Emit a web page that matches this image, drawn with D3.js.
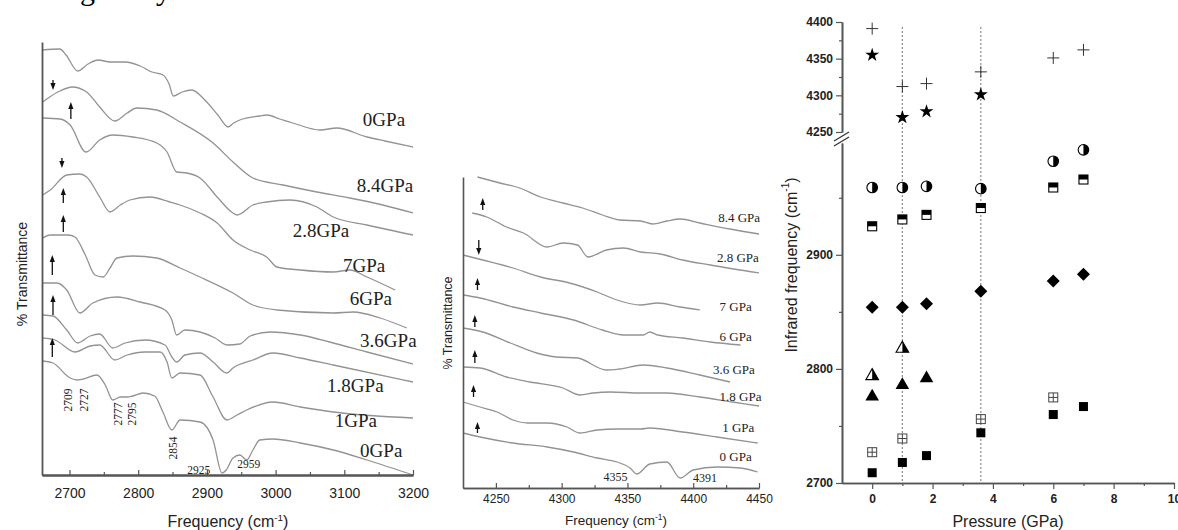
<!DOCTYPE html>
<html>
<head>
<meta charset="utf-8">
<script src="https://cdn.jsdelivr.net/npm/d3@7"></script>
<style>
  body { margin: 0; background: #fff; }
  svg { display: block; }
  .sans { font-family: "Liberation Sans", Arial, sans-serif; }
  .serif { font-family: "Liberation Serif", "Times New Roman", serif; }
</style>
</head>
<body>
<svg id="chart" width="1178" height="530"></svg>
<script>
// ---- left panel: 2660-3200 cm-1 spectra, [frequency, transmittance (stacked, arb. units)]
const LEFT_LABELS = ["0GPa", "8.4GPa", "2.8GPa", "7GPa", "6GPa", "3.6GPa", "1.8GPa", "1GPa", "0GPa"];
const LEFT_LABEL_AT = [[3127, 349], [3118, 283], [3025, 238], [3098, 203], [3108, 170], [3123, 128], [3075, 83], [3086, 48], [3123, 18]];
const LEFT_SPECTRA = [
  [[2660,425],[2686,426],[2695,420],[2712,404],[2727,411],[2742,415],[2759,413],[2781,413],[2803,409],[2820,403],[2836,400],[2845,391],[2851,379],[2864,383],[2878,385],[2897,375],[2916,360],[2931,348],[2939,352],[2948,355],[2977,359],[2987,360],[3006,356],[3025,352],[3065,345],[3089,347],[3133,338],[3159,334],[3200,328]],
  [[2661,373],[2667,376],[2686,384],[2704,388],[2725,383],[2744,368],[2766,354],[2784,362],[2798,367],[2827,365],[2861,353],[2909,332],[2938,313],[2967,297],[3011,290],[3060,283],[3108,277],[3156,270],[3200,262]],
  [[2661,357],[2686,356],[2701,350],[2724,323],[2744,335],[2763,340],[2792,338],[2827,332],[2842,323],[2856,303],[2871,302],[2890,297],[2915,278],[2938,262],[2944,260],[2967,270],[2987,273],[3021,275],[3060,268],[3084,258],[3133,250],[3200,240]],
  [[2661,280],[2672,285],[2696,300],[2715,301],[2725,298],[2744,278],[2759,263],[2774,270],[2788,275],[2817,278],[2846,273],[2861,270],[2890,262],[2915,252],[2938,235],[2963,225],[2987,218],[3002,208],[3036,205],[3084,203],[3108,205],[3133,198],[3174,185]],
  [[2661,237],[2672,240],[2698,240],[2708,238],[2723,220],[2737,200],[2749,198],[2759,207],[2769,217],[2792,219],[2827,217],[2861,207],[2890,198],[2938,182],[2967,170],[3002,165],[3084,162],[3113,163],[3152,157],[3191,147]],
  [[2661,192],[2682,192],[2696,185],[2715,162],[2734,172],[2769,178],[2803,173],[2839,165],[2849,155],[2856,140],[2868,145],[2890,143],[2912,137],[2929,130],[2948,131],[2963,139],[2992,143],[3036,140],[3084,132],[3133,123],[3200,111]],
  [[2661,160],[2676,159],[2696,145],[2712,132],[2730,139],[2744,141],[2763,127],[2781,132],[2810,135],[2839,130],[2849,118],[2856,113],[2868,120],[2890,122],[2909,113],[2929,102],[2938,107],[2967,115],[2996,122],[3036,117],[3084,110],[3200,93]],
  [[2661,137],[2679,135],[2708,123],[2730,129],[2744,130],[2766,115],[2784,120],[2810,123],[2832,123],[2842,113],[2849,97],[2861,102],[2890,100],[2909,78],[2929,55],[2944,60],[2958,65],[2996,73],[3036,68],[3084,63],[3200,57]],
  [[2661,114],[2676,112],[2701,97],[2711,95],[2720,96],[2740,100],[2752,90],[2763,75],[2774,78],[2784,78],[2792,79],[2807,82],[2824,79],[2836,63],[2849,45],[2861,55],[2890,53],[2909,35],[2922,2],[2928,5],[2938,17],[2948,20],[2958,15],[2967,25],[2977,35],[2996,36],[3036,32],[3084,25],[3133,15],[3200,0]]
];
// arrows: [frequency, tail, head]
const LEFT_ARROWS = [[2676,395,385],[2702,356,373],[2689,317,307],[2691,272,287],[2691,243,260],[2675,200,220],[2676,160,180],[2675,118,137]];
// peak annotations: [text, frequency, transmittance, rotated]
const LEFT_PEAKS = [["2709",2698,75,true],["2727",2721,75,true],["2777",2771,61,true],["2795",2791,61,true],["2854",2851,27,true],["2925",2888,1,false],["2959",2961,7,false]];
const LEFT_TICKS = [2700, 2800, 2900, 3000, 3100, 3200];
const LEFT_MINOR = [2750, 2850, 2950, 3050, 3150];

// ---- middle panel: 4225-4450 cm-1
const MID_LABELS = ["8.4 GPa", "2.8 GPa", "7 GPa", "6 GPa", "3.6 GPa", "1.8 GPa", "1 GPa", "0 GPa"];
const MID_LABEL_AT = [[4419,266],[4418,226],[4420,177],[4420,147],[4415,114],[4420,87],[4422,56],[4420,27]];
const MID_SPECTRA = [
  [[4236,311],[4253,305],[4268,300],[4284,291],[4301,285],[4316,280],[4331,273],[4344,268],[4360,267],[4369,264],[4380,267],[4390,269],[4405,265],[4428,259],[4450,254]],
  [[4232,275],[4243,271],[4258,261],[4271,255],[4289,241],[4301,245],[4312,243],[4320,231],[4334,238],[4347,240],[4360,236],[4375,234],[4392,228],[4413,223],[4450,215]],
  [[4225,233],[4240,228],[4263,220],[4284,211],[4306,205],[4327,196],[4342,188],[4360,183],[4373,185],[4390,181],[4405,178]],
  [[4225,193],[4238,190],[4263,181],[4284,175],[4309,168],[4331,158],[4347,153],[4362,153],[4367,156],[4373,153],[4392,150],[4413,146],[4436,143]],
  [[4225,160],[4240,156],[4261,145],[4281,135],[4296,131],[4312,130],[4334,118],[4344,119],[4362,123],[4380,120],[4405,113],[4428,106]],
  [[4225,121],[4238,120],[4258,111],[4276,106],[4301,100],[4314,93],[4324,95],[4337,96],[4360,95],[4380,95],[4405,91],[4430,86],[4450,82]],
  [[4225,86],[4238,81],[4251,76],[4263,68],[4274,65],[4289,65],[4304,61],[4314,55],[4327,58],[4342,59],[4360,59],[4367,60],[4392,56],[4418,51],[4449,45]],
  [[4225,55],[4238,51],[4263,45],[4289,41],[4309,36],[4327,30],[4342,26],[4352,20],[4357,14],[4367,24],[4380,26],[4390,10],[4400,18],[4418,21],[4436,20],[4449,16]]
];
const MID_ARROWS = [[4240,278,290],[4237,248,233],[4236,198,210],[4234,161,173],[4234,125,138],[4233,91,103],[4236,55,66]];
const MID_PEAKS = [["4355",4341,7],["4391",4409,6]];
const MID_TICKS = [4250, 4300, 4350, 4400, 4450];
const MID_MINOR = [4275, 4325, 4375, 4425];

// ---- right panel: band position vs pressure, [GPa, cm-1]
const PLUS_PTS = [[0,4391],[1,4312],[1.8,4316],[3.6,4332],[6,4351],[7,4362]];
const STAR_PTS = [[0,4355],[1,4270],[1.8,4278],[3.6,4301]];
const HALF_CIRCLE_PTS = [[0,2959],[1,2959],[1.8,2960],[3.6,2958],[6,2982],[7,2992]];
const HALF_SQUARE_PTS = [[0,2925],[1,2931],[1.8,2935],[3.6,2941],[6,2959],[7,2966]];
const DIAMOND_PTS = [[0,2854],[1,2854],[1.8,2857],[3.6,2868],[6,2877],[7,2883]];
const HALF_TRI_PTS = [[0,2795],[1,2819]];
const TRI_PTS = [[0,2777],[1,2787],[1.8,2793]];
const CROSS_SQUARE_PTS = [[0,2727],[1,2739],[3.6,2756],[6,2775]];
const SQUARE_PTS = [[0,2709],[1,2718],[1.8,2724],[3.6,2744],[6,2760],[7,2767]];
const DOTTED_P = [1, 3.6];
const RIGHT_X_TICKS = [0, 2, 4, 6, 8, 10];
const RIGHT_X_MINOR = [1, 3, 5, 7, 9];
const HI_TICKS = [4250, 4300, 4350, 4400];
const HI_MINOR = [4275, 4325, 4375];
const LO_TICKS = [2700, 2800, 2900];
const LO_MINOR = [2750, 2850, 2950];

const AXIS_COLOR = "#555";
const CURVE_COLOR = "#939393";
const plain = d3.format("d");

const svg = d3.select("#chart");

// cropped caption fragment at the very top
svg.append("text").attr("class", "serif").attr("x", 80).attr("y", 0)
  .style("font-size", "30px").text("g");
svg.append("text").attr("class", "serif").attr("x", 156).attr("y", 0)
  .style("font-size", "30px").text("y");

const styleAxis = (g, width) => {
  g.select(".domain").attr("stroke", AXIS_COLOR).attr("stroke-width", width);
  g.selectAll(".tick line").attr("stroke", AXIS_COLOR).attr("stroke-width", 1.2);
};

const drawArrows = (g, arrows, x, y) => {
  arrows.forEach(([f, tail, head]) => {
    const px = x(f), y0 = y(tail), y1 = y(head);
    const dir = y1 < y0 ? -1 : 1;
    g.append("line").attr("x1", px).attr("x2", px).attr("y1", y0).attr("y2", y1 - dir * 4)
      .attr("stroke", "#111").attr("stroke-width", 1.3);
    g.append("path")
      .attr("d", `M${px},${y1}L${px - 2.6},${y1 - dir * 7}L${px + 2.6},${y1 - dir * 7}Z`)
      .attr("fill", "#111");
  });
};

const drawSpectra = (g, spectra, x, y) => {
  const line = d3.line().curve(d3.curveMonotoneX).x((d) => x(d[0])).y((d) => y(d[1]));
  g.selectAll("path.spec").data(spectra).join("path").attr("class", "spec")
    .attr("d", line).attr("fill", "none").attr("stroke", CURVE_COLOR)
    .attr("stroke-width", 1.3).attr("stroke-linejoin", "round");
};

const freqLabel = (g, cx, cy, size) => {
  const t = g.append("text").attr("class", "sans").attr("x", cx).attr("y", cy)
    .attr("text-anchor", "middle").style("font-size", size + "px").attr("fill", "#222");
  t.append("tspan").text("Frequency (cm");
  t.append("tspan").attr("dy", -size * 0.4).style("font-size", size * 0.62 + "px").text("-1");
  t.append("tspan").attr("dy", size * 0.4).text(")");
};

// ================= left panel =================
const xL = d3.scaleLinear().domain([2660, 3200]).range([42, 413]);
const yL = d3.scaleLinear().domain([0, 433]).range([475, 42]);
const gL = svg.append("g");

drawSpectra(gL, LEFT_SPECTRA, xL, yL);

gL.append("g").attr("transform", "translate(0,475)")
  .call(d3.axisBottom(xL).tickValues(LEFT_MINOR).tickFormat("").tickSize(-3).tickSizeOuter(0))
  .call((g) => styleAxis(g, 1.8));
gL.append("g").attr("class", "sans").attr("transform", "translate(0,475)")
  .call(d3.axisBottom(xL).tickValues(LEFT_TICKS).tickFormat(plain).tickSize(-5).tickSizeOuter(0).tickPadding(13))
  .call((g) => styleAxis(g, 1.8))
  .call((g) => g.selectAll("text").style("font-size", "14px").attr("fill", "#222").attr("font-family", null));
gL.append("g").attr("transform", "translate(42,0)")
  .call(d3.axisLeft(yL).tickValues([]).tickSizeOuter(0))
  .call((g) => styleAxis(g, 1.8));

gL.selectAll("text.plabel").data(LEFT_LABELS).join("text").attr("class", "plabel serif")
  .attr("x", (d, i) => xL(LEFT_LABEL_AT[i][0])).attr("y", (d, i) => yL(LEFT_LABEL_AT[i][1]))
  .style("font-size", "19px").attr("fill", "#222").text((d) => d);

gL.selectAll("text.peak").data(LEFT_PEAKS).join("text").attr("class", "peak serif")
  .attr("transform", (d) => `translate(${xL(d[1])},${yL(d[2])})` + (d[3] ? " rotate(-90)" : ""))
  .attr("text-anchor", "middle").attr("dominant-baseline", (d) => (d[3] ? "central" : "auto"))
  .style("font-size", "11.5px").attr("fill", "#222").text((d) => d[0]);

drawArrows(gL, LEFT_ARROWS, xL, yL);

gL.append("text").attr("class", "sans")
  .attr("transform", "translate(22,274) rotate(-90)").attr("text-anchor", "middle")
  .attr("dominant-baseline", "central").style("font-size", "14px").attr("fill", "#222")
  .text("% Transmittance");
freqLabel(gL, 228, 527, 16);

// ================= middle panel =================
const xM = d3.scaleLinear().domain([4225, 4450]).range([463, 759]);
const yM = d3.scaleLinear().domain([0, 311]).range([488, 177]);
const gM = svg.append("g");

drawSpectra(gM, MID_SPECTRA, xM, yM);

gM.append("g").attr("transform", "translate(0,488)")
  .call(d3.axisBottom(xM).tickValues(MID_MINOR).tickFormat("").tickSize(-3).tickSizeOuter(0))
  .call((g) => styleAxis(g, 1.6));
gM.append("g").attr("class", "sans").attr("transform", "translate(0,488)")
  .call(d3.axisBottom(xM).tickValues(MID_TICKS).tickFormat(plain).tickSize(-5).tickSizeOuter(0).tickPadding(6))
  .call((g) => styleAxis(g, 1.6))
  .call((g) => g.selectAll("text").style("font-size", "12px").attr("fill", "#222").attr("font-family", null));
gM.append("g").attr("transform", "translate(463,0)")
  .call(d3.axisLeft(yM).tickValues([]).tickSizeOuter(0))
  .call((g) => styleAxis(g, 1.6));

gM.selectAll("text.plabel").data(MID_LABELS).join("text").attr("class", "plabel serif")
  .attr("x", (d, i) => xM(MID_LABEL_AT[i][0])).attr("y", (d, i) => yM(MID_LABEL_AT[i][1]))
  .style("font-size", "13px").attr("fill", "#222").text((d) => d);

gM.selectAll("text.peak").data(MID_PEAKS).join("text").attr("class", "peak serif")
  .attr("x", (d) => xM(d[1])).attr("y", (d) => yM(d[2])).attr("text-anchor", "middle")
  .style("font-size", "12px").attr("fill", "#222").text((d) => d[0]);

drawArrows(gM, MID_ARROWS, xM, yM);

gM.append("text").attr("class", "sans")
  .attr("transform", "translate(448,323) rotate(-90)").attr("text-anchor", "middle")
  .attr("dominant-baseline", "central").style("font-size", "12.5px").attr("fill", "#222")
  .text("% Transmittance");
freqLabel(gM, 616, 525, 13.5);

// ================= right panel =================
const xR = d3.scaleLinear().domain([-1, 10]).range([842, 1174]);
const yHi = d3.scaleLinear().domain([4250, 4400]).range([132, 22]);
const yLo = d3.scaleLinear().domain([2700, 2998]).range([483, 143]);
const yR = (v) => (v > 4000 ? yHi(v) : yLo(v));
const gR = svg.append("g");

DOTTED_P.forEach((p) => {
  gR.append("line").attr("x1", xR(p)).attr("x2", xR(p))
    .attr("y1", yHi(4393)).attr("y2", yLo(2700))
    .attr("stroke", "#666").attr("stroke-width", 1.2).attr("stroke-dasharray", "1.5,2.5");
});

const boldTicks = (g) => g.selectAll("text").attr("font-family", null)
  .style("font-size", "12px").style("font-weight", "bold").attr("fill", "#222");

gR.append("g").attr("class", "sans").attr("transform", "translate(0,483)")
  .call(d3.axisBottom(xR).tickValues(RIGHT_X_MINOR).tickFormat("").tickSize(3).tickSizeOuter(0))
  .call((g) => styleAxis(g, 1.6));
gR.append("g").attr("class", "sans").attr("transform", "translate(0,483)")
  .call(d3.axisBottom(xR).tickValues(RIGHT_X_TICKS).tickFormat(plain).tickSize(6).tickSizeOuter(0).tickPadding(5))
  .call((g) => styleAxis(g, 1.6)).call(boldTicks);

[[yHi, HI_TICKS, HI_MINOR], [yLo, LO_TICKS, LO_MINOR]].forEach(([scale, major, minor]) => {
  gR.append("g").attr("transform", "translate(842,0)")
    .call(d3.axisLeft(scale).tickValues(minor).tickFormat("").tickSize(3).tickSizeOuter(0))
    .call((g) => styleAxis(g, 1.6));
  gR.append("g").attr("class", "sans").attr("transform", "translate(842,0)")
    .call(d3.axisLeft(scale).tickValues(major).tickFormat(plain).tickSize(6).tickSizeOuter(0).tickPadding(3))
    .call((g) => styleAxis(g, 1.6)).call(boldTicks);
});

// axis break
[0, 5].forEach((off) => {
  gR.append("line").attr("x1", 834).attr("y1", yHi(4250) + 9 + off)
    .attr("x2", 849).attr("y2", yHi(4250) + off)
    .attr("stroke", "#333").attr("stroke-width", 1.3);
});

const MARKERS = {
  plus: (g) => g.append("path").attr("d", "M-6,0H6M0,-6V6").attr("stroke", "#333").attr("stroke-width", 1),
  star: (g) => g.append("path").attr("d", d3.symbol(d3.symbolStar, 60)()).attr("fill", "#000"),
  halfCircle: (g) => {
    g.append("circle").attr("r", 5.3).attr("fill", "#fff").attr("stroke", "#000").attr("stroke-width", 1.1);
    g.append("path").attr("d", "M0,-5.3A5.3,5.3 0 0,1 0,5.3Z").attr("fill", "#000");
  },
  halfSquare: (g) => {
    g.append("rect").attr("x", -4.5).attr("y", -4.5).attr("width", 9).attr("height", 9)
      .attr("fill", "#fff").attr("stroke", "#000").attr("stroke-width", 1.1);
    g.append("rect").attr("x", -4.5).attr("y", -4.5).attr("width", 9).attr("height", 4.5).attr("fill", "#000");
  },
  diamond: (g) => g.append("path").attr("d", "M0,-6.5L6.5,0L0,6.5L-6.5,0Z").attr("fill", "#000"),
  halfTri: (g) => {
    g.append("path").attr("d", "M0,-6L6.3,5L-6.3,5Z").attr("fill", "#fff").attr("stroke", "#000").attr("stroke-width", 1.1);
    g.append("path").attr("d", "M0,-6L6.3,5L0,5Z").attr("fill", "#000");
  },
  tri: (g) => g.append("path").attr("d", "M0,-6.5L6.8,5.3L-6.8,5.3Z").attr("fill", "#000"),
  crossSquare: (g) => {
    g.append("rect").attr("x", -4.5).attr("y", -4.5).attr("width", 9).attr("height", 9)
      .attr("fill", "#fff").attr("stroke", "#444").attr("stroke-width", 1);
    g.append("path").attr("d", "M0,-4.5V4.5M-4.5,0H4.5").attr("stroke", "#444").attr("stroke-width", 1);
  },
  square: (g) => g.append("rect").attr("x", -4.5).attr("y", -4.5).attr("width", 9).attr("height", 9).attr("fill", "#000"),
};

const SERIES = [
  [PLUS_PTS, "plus"], [STAR_PTS, "star"], [HALF_CIRCLE_PTS, "halfCircle"],
  [HALF_SQUARE_PTS, "halfSquare"], [DIAMOND_PTS, "diamond"], [HALF_TRI_PTS, "halfTri"],
  [TRI_PTS, "tri"], [CROSS_SQUARE_PTS, "crossSquare"], [SQUARE_PTS, "square"],
];
SERIES.forEach(([pts, shape]) => {
  gR.append("g").selectAll("g").data(pts).join("g")
    .attr("transform", (d) => `translate(${xR(d[0])},${yR(d[1])})`)
    .each(function () { MARKERS[shape](d3.select(this)); });
});

const yTitle = gR.append("text").attr("class", "sans")
  .attr("transform", "translate(791,265) rotate(-90)").attr("text-anchor", "middle")
  .attr("dominant-baseline", "central").style("font-size", "16px").attr("fill", "#222");
yTitle.append("tspan").text("Infrared frequency (cm");
yTitle.append("tspan").attr("dy", -6).style("font-size", "10px").text("-1");
yTitle.append("tspan").attr("dy", 6).text(")");

gR.append("text").attr("class", "sans").attr("x", 1008).attr("y", 527)
  .attr("text-anchor", "middle").style("font-size", "16px").attr("fill", "#222")
  .text("Pressure (GPa)");
</script>
</body>
</html>
